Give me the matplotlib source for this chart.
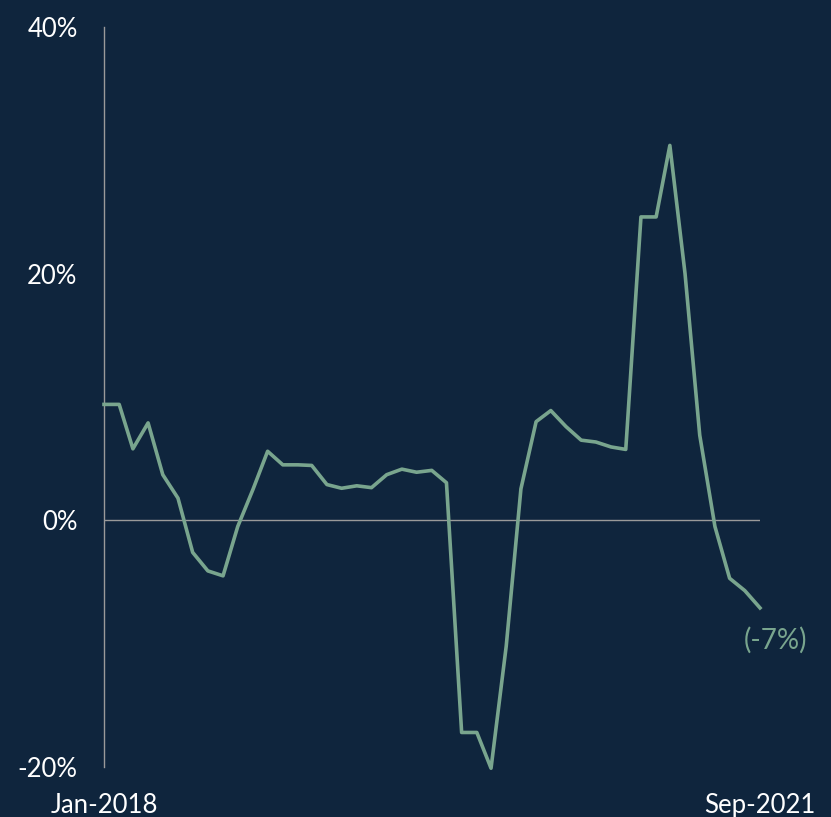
import matplotlib.pyplot as plt
import pandas as pd

# monthly yoy change, Jan-2018 .. Sep-2021
months = pd.date_range("2018-01-01", periods=45, freq="MS")
values = [9.4, 9.4, 5.8, 7.9, 3.7, 1.8, -2.6, -4.1, -4.5, -0.5,
          2.5, 5.6, 4.5, 4.5, 4.45, 2.9, 2.6, 2.8, 2.65, 3.7,
          4.15, 3.9, 4.05, 3.05, -17.2, -17.2, -20.1, -10.2, 2.55, 8.0,
          8.9, 7.6, 6.5, 6.35, 5.95, 5.75, 24.6, 24.6, 30.4, 20.0,
          6.9, -0.5, -4.7, -5.7, -7.1]
yticks = [-20, 0, 20, 40]
xtick_labels = ["Jan-2018", "Sep-2021"]
last_label = "(-7%)"

bg = "#0f253d"
line_col = "#79a58e"
axis_col = "#9a9a9a"

plt.rcParams["font.family"] = ["Lato", "DejaVu Sans"]

fig = plt.figure(figsize=(8.31, 8.17), dpi=100, facecolor=bg)
ax = fig.add_axes([104 / 831, 1 - 767 / 817, 656 / 831, 740 / 817])
ax.set_facecolor(bg)

ax.plot(months, values, color=line_col, lw=2.6, clip_on=False, zorder=3)
ax.axhline(0, color=axis_col, lw=1, zorder=2)

ax.set_ylim(-20, 40)
ax.set_xlim(months[0], months[-1])
for s in ["top", "right", "bottom"]:
    ax.spines[s].set_visible(False)
ax.spines["left"].set_color(axis_col)
ax.spines["left"].set_linewidth(1)

ax.set_yticks(yticks)
ax.set_yticklabels([f"{t}%" for t in yticks])
ax.set_xticks([months[0], months[-1]])
ax.set_xticklabels(xtick_labels)
ax.tick_params(axis="y", length=0, pad=19, labelsize=18.5, labelcolor="white")
ax.tick_params(axis="x", length=0, pad=19, labelsize=18.5, labelcolor="white")

ax.annotate(last_label, xy=(months[-1], values[-1]), xytext=(11, -23),
            textcoords="offset points", ha="center", va="center",
            color=line_col, fontsize=20)

fig.savefig("out.png", dpi=100, facecolor=bg)
